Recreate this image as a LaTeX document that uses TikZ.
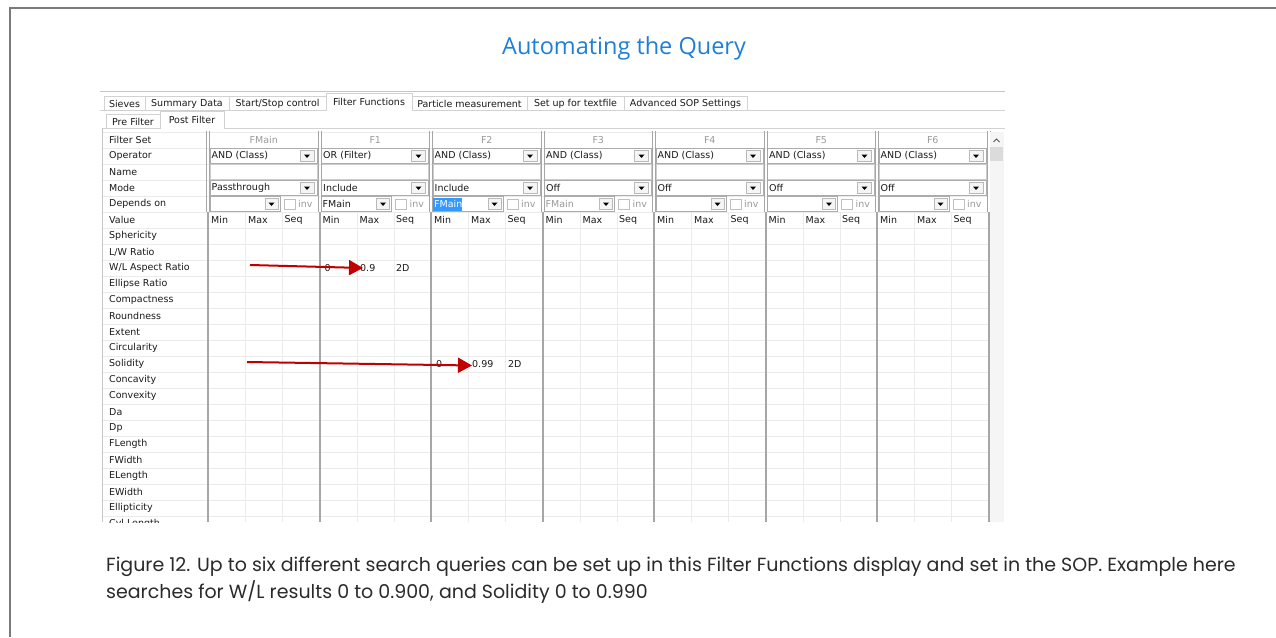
\documentclass[tikz,border=0pt]{standalone}
\usepackage{fontspec}
\setmainfont{DejaVu Sans}
\newfontfamily\capfont{Poppins}
\newfontfamily\titlefont{Open Sans}
\usetikzlibrary{arrows.meta}
\definecolor{titleblue}{HTML}{1F7FD6}
\definecolor{gridline}{HTML}{EBEBEB}
\definecolor{sepgray}{HTML}{A6A6A6}
\definecolor{arrowred}{HTML}{C00000}
\definecolor{captext}{HTML}{2A2A2A}
\definecolor{uitext}{HTML}{1A1A1A}
\definecolor{framegray}{HTML}{7A7A7A}
\definecolor{selblue}{HTML}{3399FF}
\tikzset{
  ui/.style={inner sep=0pt, font=\fontsize{9.5}{11}\selectfont, text=uitext},
  lbl/.style={ui, anchor=west},
  dim/.style={ui, text=gray!80},
  combo/.style={draw=gray!65, fill=white},
  btn/.style={draw=gray!55, fill=gray!8},
  tabbox/.style={draw=gray!35, fill=white},
  redarrow/.style={draw=arrowred, line width=2pt, -{Triangle[length=14pt,width=15pt]}},
  captxt/.style={anchor=west, inner sep=0pt, font=\capfont\fontsize{19}{22}\selectfont, text=captext},
}
\begin{document}
\begin{tikzpicture}[x=1pt,y=-1pt]
\useasboundingbox (0,0) rectangle (1276,637);
% outer frame
\draw[line width=1.5pt, framegray] (10,637) -- (10,8) -- (1276,8);
\node[font=\titlefont\fontsize{23.5}{28}\selectfont, text=titleblue] (title) at (624,48) {Automating the Query};

% ---------- screenshot ----------
\draw[gray!45, line width=1pt] (100,91) -- (1005,91);
% tabs
\foreach \a/\b/\t [count=\i] in {104/145/{Sieves}, 145/229/{Summary Data}, 229/326/{Start/Stop control}, 412/527/{Particle measurement}, 527/624/{Set up for textfile}, 624/747/{Advanced SOP Settings}}{
  \draw[tabbox] (\a,96) rectangle (\b,110);
  \node[ui] (tab\i) at ({(\a+\b)/2},103.5) {\t};
}
\draw[gray!35] (100,110) -- (1005,110);
\fill[white] (326.5,93) rectangle (411.5,111);
\draw[gray!35] (326,111) -- (326,93) -- (412,93) -- (412,111);
\node[ui] (tabsel) at (369,102) {Filter Functions};
% sub tabs
\draw[gray!35] (102,128) -- (1005,128);
\draw[tabbox] (106,114) rectangle (160,128);
\node[ui] (subpre) at (133,121.5) {Pre Filter};
\fill[white] (160.5,111) rectangle (223.5,128.5);
\draw[gray!35] (160,128) -- (160,111) -- (224,111) -- (224,128);
\node[ui] (subpost) at (192,120) {Post Filter};
\draw[gray!45] (102,128) -- (102,522);

\begin{scope}
\clip (100,129) rectangle (1005,522);
% light grid
\foreach \k in {0,...,24}{
  \draw[gridline] (103,132+16*\k) -- (988,132+16*\k);
}
\foreach \g in {0,...,6}{
  \pgfmathsetmacro{\xo}{208+111.5*\g}
  \draw[gridline] (\xo+37.5,212) -- (\xo+37.5,522);
  \draw[gridline] (\xo+74.5,212) -- (\xo+74.5,522);
}
% row labels
\foreach \t [count=\i from 0] in {Filter Set, Operator, Name, Mode, Depends on, Value, Sphericity, L/W Ratio, W/L Aspect Ratio, Ellipse Ratio, Compactness, Roundness, Extent, Circularity, Solidity, Concavity, Convexity, Da, Dp, FLength, FWidth, ELength, EWidth, Ellipticity, Cyl Length}{
  \node[lbl] (lab\i) at (109,140+16*\i) {\t};
}
% group columns
\foreach \g/\hd/\op/\md in {0/FMain/AND (Class)/Passthrough, 1/F1/OR (Filter)/Include, 2/F2/AND (Class)/Include, 3/F3/AND (Class)/Off, 4/F4/AND (Class)/Off, 5/F5/AND (Class)/Off, 6/F6/AND (Class)/Off}{
  \pgfmathsetmacro{\xo}{208+111.5*\g}
  \node[dim] (hd\g) at (\xo+55.75,140) {\hd};
  % operator combo
  \draw[combo] (\xo+2,148.5) rectangle (\xo+109,163.5);
  \node[lbl] (op\g) at (\xo+3.5,156) {\op};
  \draw[btn] (\xo+92,150.5) rectangle (\xo+106,161.5);
  \fill[black] (\xo+96,154.5) -- (\xo+102,154.5) -- (\xo+99,158) -- cycle;
  % name box
  \draw[draw=gray!40, fill=white] (\xo+2,164.5) rectangle (\xo+109,179.5);
  % mode combo
  \draw[combo] (\xo+2,180.5) rectangle (\xo+109,195.5);
  \node[lbl] (md\g) at (\xo+3.5,188) {\md};
  \draw[btn] (\xo+92,182.5) rectangle (\xo+106,193.5);
  \fill[black] (\xo+96,186.5) -- (\xo+102,186.5) -- (\xo+99,190) -- cycle;
  % depends on
  \draw[combo] (\xo+2,196.5) rectangle (\xo+72,211.5);
  \draw[btn] (\xo+57,198.5) rectangle (\xo+70,209.5);
  \fill[black] (\xo+60.5,202.5) -- (\xo+66.5,202.5) -- (\xo+63.5,206) -- cycle;
  \draw[draw=gray!50, fill=white] (\xo+76,199) rectangle (\xo+87,209);
  \node[dim, anchor=west] (inv\g) at (\xo+90,204) {inv};
  % value row
  \node[lbl] (mn\g) at (\xo+3,220) {Min};
  \node[lbl] (mx\g) at (\xo+40,220) {Max};
  \node[lbl] (sq\g) at (\xo+76.5,220) {Seq};
}
% depends-on contents
\node[lbl] (dep1) at (322.5,204) {FMain};
\fill[selblue] (433,197.5) rectangle (462,210.5);
\node[lbl, text=white] (dep2) at (434,204) {FMain};
\node[dim, anchor=west] (dep3) at (545.5,204) {FMain};
% separators
\foreach \x in {208,319.5,431,542.5,654,765.5,877,988.5}{
  \draw[sepgray] (\x-1.5,131) -- (\x-1.5,212);
  \draw[sepgray] (\x+1.5,131) -- (\x+1.5,212);
  \draw[sepgray, line width=2pt] (\x,212) -- (\x,522);
}
% values
\node[lbl] (v1min) at (324.5,268) {0};
\node[lbl] (v1max) at (360,268) {0.9};
\node[lbl] (v1seq) at (396,268) {2D};
\node[lbl] (v2min) at (436,364) {0};
\node[lbl] (v2max) at (472,364) {0.99};
\node[lbl] (v2seq) at (508,364) {2D};
% scrollbar
\fill[gray!8] (990,132) rectangle (1004,522);
\fill[gray!28] (990,147) rectangle (1003,161);
\draw[gray!70!black, line width=0.9pt] (993.5,142) -- (996.5,139) -- (999.5,142);
\end{scope}

% red arrows
\coordinate (a1s) at (250,265);
\coordinate (a1e) at (363,268);
\coordinate (a2s) at (247,362);
\coordinate (a2e) at (472,365.5);
\draw[redarrow] (a1s) -- (a1e);
\draw[redarrow] (a2s) -- (a2e);

% caption
\node[captxt] (cap1) at (106,567) {Figure 12. Up to six different search queries can be set up in this Filter Functions display and set in the SOP. Example here};
\node[captxt] (cap2) at (106,592) {searches for W/L results 0 to 0.900, and Solidity 0 to 0.990};
\end{tikzpicture}
\end{document}
